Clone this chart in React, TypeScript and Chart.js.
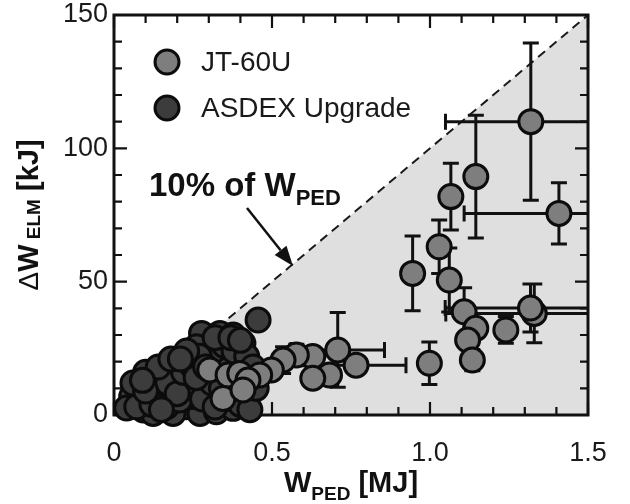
import React, { useEffect, useRef } from "react";
import { Chart, registerables } from "chart.js";

Chart.register(...registerables);

// ---- tick labels ----
const xTickValues = [0, 0.5, 1.0, 1.5];
const xTickLabels = ["0", "0.5", "1.0", "1.5"];
const yTickValues = [0, 50, 100, 150];
const yTickLabels = ["0", "50", "100", "150"];

// ---- 10% of W_PED reference line ----
const refLineW = [0, 1.5];
const refLineDW = [0, 150];

// ---- JT-60U (W_PED [MJ], ΔW_ELM [kJ], errors) ----
const jtW = [1.319, 1.145, 1.408, 1.066, 1.029, 1.061, 0.945, 1.108, 1.33, 1.318, 1.24, 1.145, 1.119, 1.134, 0.998, 0.766, 0.708, 0.682, 0.629, 0.629, 0.577, 0.535, 0.498, 0.461, 0.303, 0.361, 0.345, 0.398, 0.424, 0.408];
const jtDW = [110.0, 89.4, 75.6, 81.9, 63.1, 50.6, 53.1, 38.7, 38.1, 40.1, 31.9, 32.5, 28.1, 20.6, 19.4, 18.7, 24.4, 15.0, 21.9, 13.8, 22.5, 20.6, 16.9, 15.0, 16.9, 15.0, 6.2, 15.6, 13.1, 9.4];
const jtXErr = [0.27, 0, 0.30, 0, 0, 0, 0, 0, 0.28, 0.27, 0, 0, 0, 0, 0, 0.158, 0.148, 0, 0, 0, 0, 0, 0, 0, 0, 0, 0, 0, 0, 0];
const jtYErr = [29.5, 23, 11.5, 12.5, 10, 12, 14, 9, 11, 9, 5, 0, 0, 4, 8, 0, 14, 0, 0, 0, 4, 5, 0, 0, 0, 0, 0, 0, 0, 0];

// ---- ASDEX Upgrade ----
const augW = [0.456, 0.056, 0.04, 0.093, 0.14, 0.15, 0.114, 0.198, 0.198, 0.161, 0.24, 0.219, 0.177, 0.261, 0.23, 0.124, 0.187, 0.272, 0.324, 0.377, 0.293, 0.277, 0.335, 0.377, 0.408, 0.303, 0.335, 0.398, 0.261, 0.208, 0.293, 0.25, 0.303, 0.082, 0.072, 0.166, 0.208, 0.377, 0.419, 0.356, 0.124, 0.419, 0.06, 0.10, 0.12, 0.17, 0.20, 0.22, 0.25, 0.27, 0.28, 0.31, 0.32, 0.35, 0.36, 0.38, 0.40, 0.42, 0.43, 0.45, 0.10, 0.14, 0.18, 0.23, 0.26, 0.29, 0.34, 0.32, 0.37, 0.40, 0.44, 0.09, 0.15, 0.21];
const augDW = [35.6, 6.9, 2.6, 1.9, 6.2, 13.1, 10.6, 13.1, 18.7, 18.1, 20.6, 10.6, 8.1, 11.9, 3.1, 0.6, 0.6, 0.6, 1.2, 2.5, 28.1, 30.6, 30.6, 30.0, 26.9, 23.1, 21.9, 20.6, 25.6, 14.4, 15.6, 6.9, 8.1, 7.5, 3.1, 3.1, 5.6, 10.6, 6.9, 6.2, 14.4, 15.6, 12, 16, 4, 12, 8, 16, 18, 22, 6, 12, 3, 26, 17, 24, 4, 22, 2, 10, 9, 18, 21, 24, 14, 18, 10, 29, 29, 28, 18, 13, 2, 21];

const FONT = "'Liberation Sans', Arial, Helvetica, sans-serif";
const JT_FILL = "#7e7e7e";
const AUG_FILL = "#3c3c3c";
const EDGE = "#0c0c0c";
const SHADE = "#dfdfdf";
const R = 12;
const BW = 3;

const xMinor = [0, 0.1, 0.2, 0.3, 0.4, 0.5, 0.6, 0.7, 0.8, 0.9, 1.0, 1.1, 1.2, 1.3, 1.4, 1.5];
const yMinor = [0, 10, 20, 30, 40, 50, 60, 70, 80, 90, 100, 110, 120, 130, 140, 150];

function drawSegments(ctx: CanvasRenderingContext2D, parts: { t: string; font: string; dy: number }[], x: number, y: number, align: "center" | "left") {
  let total = 0;
  const widths = parts.map((p) => {
    ctx.font = p.font;
    const w = ctx.measureText(p.t).width;
    total += w;
    return w;
  });
  let cx = align === "center" ? x - total / 2 : x;
  parts.forEach((p, i) => {
    ctx.font = p.font;
    ctx.fillText(p.t, cx, y + p.dy);
    cx += widths[i];
  });
}

const decorPlugin = {
  id: "decor",
  afterDatasetDraw(chart: any, args: any) {
    if (args.index !== 0) return;
    const { ctx, chartArea: a, scales } = chart;
    const xs = scales.x;
    const ys = scales.y;
    ctx.save();
    ctx.strokeStyle = "#111";
    ctx.lineWidth = 2.2;
    ctx.beginPath();
    xMinor.forEach((v, i) => {
      const px = xs.getPixelForValue(v);
      const len = i % 5 === 0 ? 13 : 8;
      ctx.moveTo(px, a.bottom);
      ctx.lineTo(px, a.bottom - len);
      ctx.moveTo(px, a.top);
      ctx.lineTo(px, a.top + len);
    });
    yMinor.forEach((v, i) => {
      const py = ys.getPixelForValue(v);
      const len = i % 5 === 0 ? 13 : 8;
      ctx.moveTo(a.left, py);
      ctx.lineTo(a.left + len, py);
      ctx.moveTo(a.right, py);
      ctx.lineTo(a.right - len, py);
    });
    ctx.stroke();
    ctx.lineWidth = 3;
    ctx.strokeRect(a.left, a.top, a.right - a.left, a.bottom - a.top);
    ctx.restore();
  },
  beforeDatasetDraw(chart: any, args: any) {
    if (args.index !== 2) return;
    const { ctx, chartArea: a, scales } = chart;
    const xs = scales.x;
    const ys = scales.y;
    ctx.save();
    ctx.beginPath();
    ctx.rect(a.left, a.top - 20, a.right - a.left, a.bottom - a.top + 20);
    ctx.clip();
    ctx.strokeStyle = "#111";
    ctx.lineWidth = 3;
    const cap = 8;
    ctx.beginPath();
    jtW.forEach((w, i) => {
      const px = xs.getPixelForValue(w);
      const py = ys.getPixelForValue(jtDW[i]);
      if (jtYErr[i] > 0) {
        const p1 = ys.getPixelForValue(jtDW[i] + jtYErr[i]);
        const p2 = ys.getPixelForValue(jtDW[i] - jtYErr[i]);
        ctx.moveTo(px, p1);
        ctx.lineTo(px, p2);
        ctx.moveTo(px - cap, p1);
        ctx.lineTo(px + cap, p1);
        ctx.moveTo(px - cap, p2);
        ctx.lineTo(px + cap, p2);
      }
      if (jtXErr[i] > 0) {
        const q1 = xs.getPixelForValue(w - jtXErr[i]);
        const q2 = xs.getPixelForValue(w + jtXErr[i]);
        ctx.moveTo(q1, py);
        ctx.lineTo(q2, py);
        ctx.moveTo(q1, py - cap);
        ctx.lineTo(q1, py + cap);
        ctx.moveTo(q2, py - cap);
        ctx.lineTo(q2, py + cap);
      }
    });
    ctx.stroke();
    ctx.restore();
  },
  afterDatasetsDraw(chart: any) {
    const { ctx } = chart;
    ctx.save();
    // legend
    const items = [
      { label: chart.data.datasets[2].label, fill: JT_FILL, y: 62 },
      { label: chart.data.datasets[1].label, fill: AUG_FILL, y: 108 },
    ];
    items.forEach((it) => {
      ctx.beginPath();
      ctx.arc(167, it.y, R, 0, Math.PI * 2);
      ctx.fillStyle = it.fill;
      ctx.fill();
      ctx.lineWidth = BW;
      ctx.strokeStyle = EDGE;
      ctx.stroke();
      ctx.fillStyle = "#1a1a1a";
      ctx.font = `28px ${FONT}`;
      ctx.textAlign = "left";
      ctx.textBaseline = "middle";
      ctx.fillText(it.label, 201, it.y + 1);
    });
    // annotation
    ctx.fillStyle = "#111";
    ctx.textBaseline = "alphabetic";
    drawSegments(
      ctx,
      [
        { t: "10% of W", font: `bold 33px ${FONT}`, dy: 0 },
        { t: "PED", font: `bold 22px ${FONT}`, dy: 9 },
      ],
      149,
      196,
      "left"
    );
    // arrow
    const x0 = 247, y0 = 208, x1 = 293, y1 = 266;
    const ang = Math.atan2(y1 - y0, x1 - x0);
    const hl = 20, hw = 7.5;
    ctx.strokeStyle = "#111";
    ctx.lineWidth = 2.5;
    ctx.beginPath();
    ctx.moveTo(x0, y0);
    ctx.lineTo(x1 - hl * Math.cos(ang), y1 - hl * Math.sin(ang));
    ctx.stroke();
    ctx.beginPath();
    ctx.moveTo(x1, y1);
    ctx.lineTo(x1 - hl * Math.cos(ang) + hw * Math.sin(ang), y1 - hl * Math.sin(ang) - hw * Math.cos(ang));
    ctx.lineTo(x1 - hl * Math.cos(ang) - hw * Math.sin(ang), y1 - hl * Math.sin(ang) + hw * Math.cos(ang));
    ctx.closePath();
    ctx.fill();
    ctx.restore();
  },
  afterDraw(chart: any) {
    const { ctx, chartArea: a } = chart;
    ctx.save();
    ctx.fillStyle = "#111";
    ctx.textBaseline = "alphabetic";
    // x title
    drawSegments(
      ctx,
      [
        { t: "W", font: `bold 29px ${FONT}`, dy: 0 },
        { t: "PED", font: `bold 19px ${FONT}`, dy: 8 },
        { t: " [MJ]", font: `bold 29px ${FONT}`, dy: 0 },
      ],
      (a.left + a.right) / 2,
      492,
      "center"
    );
    // y title
    ctx.translate(38, (a.top + a.bottom) / 2);
    ctx.rotate(-Math.PI / 2);
    drawSegments(
      ctx,
      [
        { t: "\u0394", font: `28px ${FONT}`, dy: 0 },
        { t: "W", font: `bold 29px ${FONT}`, dy: 0 },
        { t: " ELM", font: `bold 19px ${FONT}`, dy: 2 },
        { t: " [kJ]", font: `bold 29px ${FONT}`, dy: 0 },
      ],
      0,
      0,
      "center"
    );
    ctx.restore();
  },
};

export default function App() {
  const ref = useRef<HTMLCanvasElement | null>(null);
  useEffect(() => {
    document.body.style.margin = "0";
    const canvas = ref.current;
    if (!canvas) return;
    const chart = new Chart(canvas, {
      type: "scatter",
      data: {
        datasets: [
          {
            type: "line",
            label: "10% of WPED",
            data: refLineW.map((w, i) => ({ x: w, y: refLineDW[i] })),
            borderColor: "#1a1a1a",
            borderWidth: 2,
            borderDash: [9, 6],
            pointRadius: 0,
            fill: "origin",
            backgroundColor: SHADE,
            order: 3,
          } as any,
          {
            label: "ASDEX Upgrade",
            data: augW.map((w, i) => ({ x: w, y: augDW[i] })),
            backgroundColor: AUG_FILL,
            borderColor: EDGE,
            borderWidth: BW,
            pointRadius: R,
            order: 2,
            clip: false,
          } as any,
          {
            label: "JT-60U",
            data: jtW.map((w, i) => ({ x: w, y: jtDW[i] })),
            backgroundColor: JT_FILL,
            borderColor: EDGE,
            borderWidth: BW,
            pointRadius: R,
            order: 1,
            clip: false,
          } as any,
        ],
      },
      options: {
        responsive: false,
        animation: false,
        devicePixelRatio: 1,
        layout: { padding: { left: 0, right: 42, top: 15, bottom: 0 } },
        plugins: { legend: { display: false }, tooltip: { enabled: false } },
        scales: {
          x: {
            type: "linear",
            min: 0,
            max: 1.5,
            afterFit: (s: any) => {
              s.height = 89;
              s.paddingLeft = 0;
              s.paddingRight = 0;
            },
            afterBuildTicks: (s: any) => {
              s.ticks = xTickValues.map((v) => ({ value: v }));
            },
            ticks: {
              padding: 22,
              maxRotation: 0,
              color: "#1a1a1a",
              font: { size: 27, family: FONT },
              callback: (v: any) => xTickLabels[xTickValues.indexOf(Number(v))] ?? "",
            },
            grid: { display: false, drawTicks: false },
            border: { display: false },
          },
          y: {
            type: "linear",
            min: 0,
            max: 150,
            afterFit: (s: any) => {
              s.width = 114;
              s.paddingTop = 0;
              s.paddingBottom = 0;
            },
            afterBuildTicks: (s: any) => {
              s.ticks = yTickValues.map((v) => ({ value: v }));
            },
            ticks: {
              padding: 6,
              color: "#1a1a1a",
              font: { size: 27, family: FONT },
              callback: (v: any) => yTickLabels[yTickValues.indexOf(Number(v))] ?? "",
            },
            grid: { display: false, drawTicks: false },
            border: { display: false },
          },
        },
      },
      plugins: [decorPlugin],
    });
    return () => chart.destroy();
  }, []);
  return (
    <div style={{ width: 630, height: 504, background: "#fff" }}>
      <canvas ref={ref} width={630} height={504} style={{ display: "block", width: 630, height: 504 }} />
    </div>
  );
}
